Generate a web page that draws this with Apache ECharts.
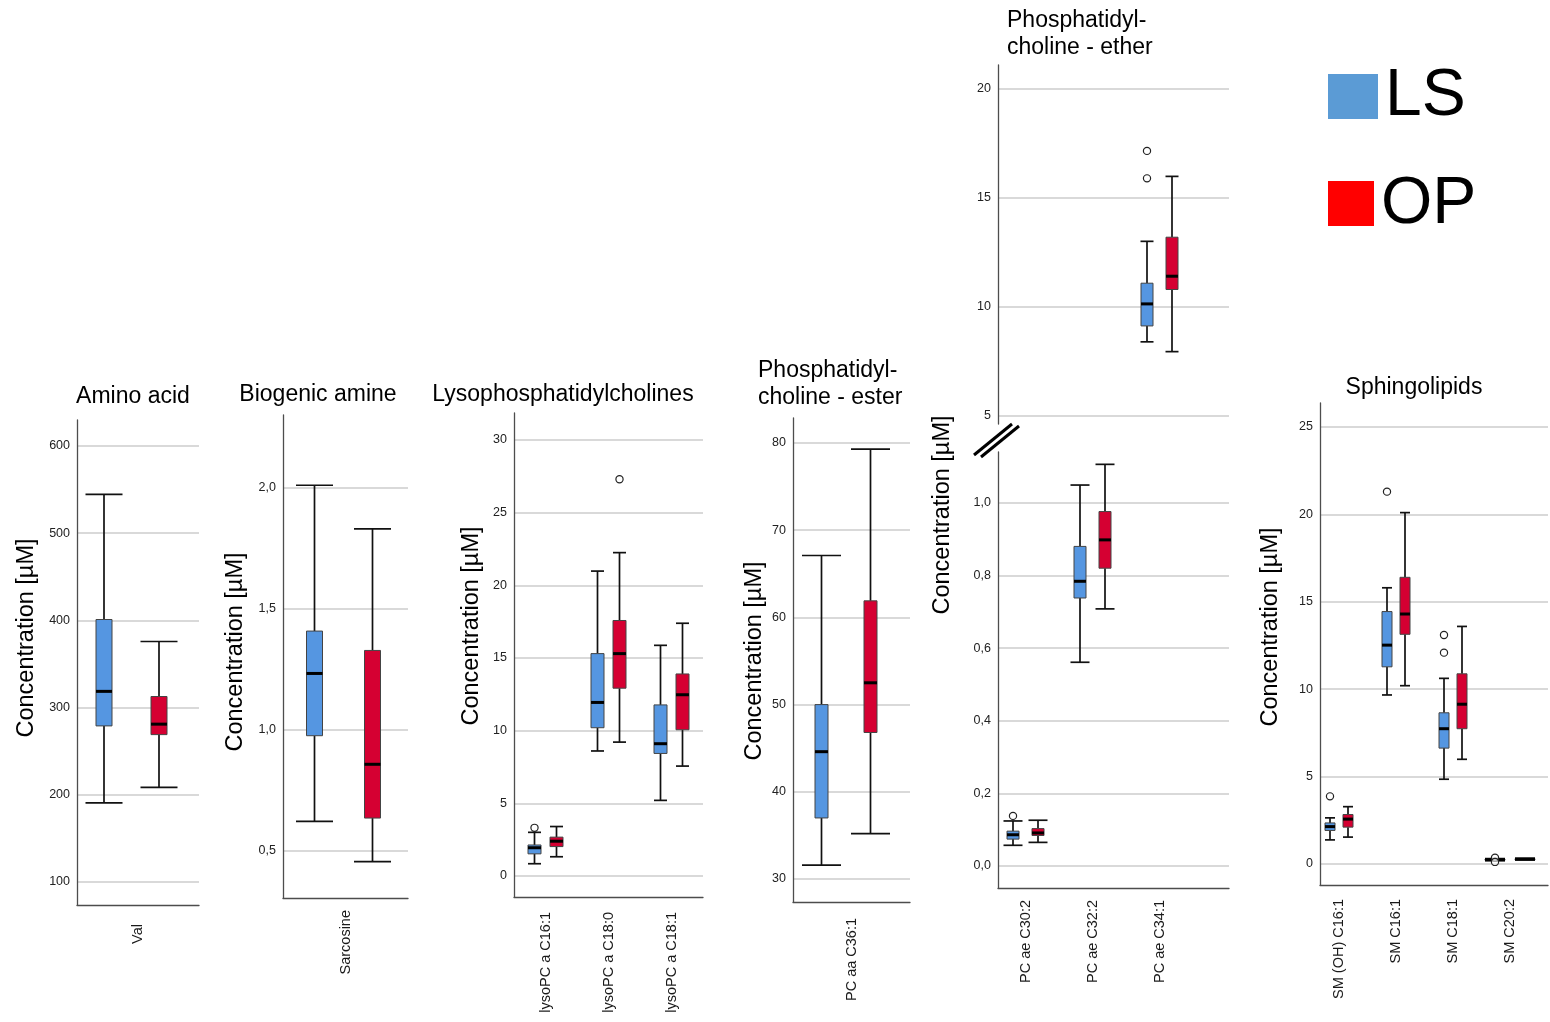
<!DOCTYPE html>
<html><head><meta charset="utf-8"><title>Concentrations LS vs OP</title>
<script src="https://cdn.jsdelivr.net/npm/echarts@6/dist/echarts.min.js"></script>
<style>html,body{margin:0;padding:0;background:#fff;}#chart{width:1550px;height:1022px;}</style>
</head><body><div id="chart"></div>
<script>
// ---------- DATA: each row = [min, Q1, median, Q3, max] ----------
const groups = ['LS', 'OP'];

const aminoCats = ['Val'];
const aminoLS = [[190.7, 279, 318.6, 401, 544.5]];
const aminoOP = [[208.5, 269, 281, 312.7, 375.8]];

const amineCats = ['Sarcosine'];
const amineLS = [[0.622, 0.976, 1.233, 1.408, 2.01]];
const amineOP = [[0.456, 0.636, 0.858, 1.328, 1.83]];

const lysoCats = ['lysoPC a C16:1', 'lysoPC a C18:0', 'lysoPC a C18:1'];
const lysoLS = [[0.84, 1.52, 1.94, 2.13, 3.0], [8.6, 10.2, 11.94, 15.3, 20.98], [5.2, 8.43, 9.1, 11.77, 15.87]];
const lysoOP = [[1.32, 2.02, 2.39, 2.67, 3.40], [9.21, 12.92, 15.3, 17.58, 22.25], [7.56, 10.06, 12.47, 13.9, 17.39]];
const lysoOutLS = [[0, 3.31]];
const lysoOutOP = [[1, 27.3]];

const esterCats = ['PC aa C36:1'];
const esterLS = [[31.6, 37.0, 44.6, 50.0, 67.1]];
const esterOP = [[35.2, 46.8, 52.5, 61.9, 79.3]];

const etherCats = ['PC ae C30:2', 'PC ae C32:2', 'PC ae C34:1'];
const etherLS = [[0.057, 0.074, 0.086, 0.096, 0.124], [0.561, 0.738, 0.784, 0.88, 1.049], [8.4, 9.13, 10.14, 11.09, 13.01]];
const etherOP = [[0.065, 0.084, 0.091, 0.103, 0.126], [0.708, 0.82, 0.898, 0.976, 1.106], [7.95, 10.8, 11.41, 13.2, 15.99]];
const etherOutLS = [[0, 0.138], [2, 17.16], [2, 15.9]];
const etherOutOP = [];

const sphCats = ['SM (OH) C16:1', 'SM C16:1', 'SM C18:1', 'SM C20:2'];
const sphLS = [[1.38, 1.92, 2.14, 2.35, 2.64], [9.67, 11.28, 12.52, 14.44, 15.8], [4.85, 6.63, 7.74, 8.65, 10.62], [0.19, 0.22, 0.25, 0.28, 0.31]];
const sphOP = [[1.54, 2.11, 2.57, 2.83, 3.28], [10.2, 13.14, 14.3, 16.4, 20.1], [5.99, 7.74, 9.14, 10.88, 13.59], [0.23, 0.26, 0.28, 0.30, 0.33]];
const sphOutLS = [[0, 3.87], [1, 21.3], [2, 13.1], [2, 12.09], [3, 0.36], [3, 0.12]];
const sphOutOP = [];

const panelTitles = ['Amino acid', 'Biogenic amine', 'Lysophosphatidylcholines', 'Phosphatidyl-\ncholine - ester', 'Phosphatidyl-\ncholine - ether', 'Sphingolipids'];
const yName = 'Concentration [µM]';

// ---------- STYLE / LAYOUT ----------
const FONT = '"Liberation Sans", Arial, sans-serif';
const C_LS = '#5596E1', C_OP = '#D50032';
const AXIS_C = '#4d4d4d', GRID_C = '#cccccc';

const grids = [], xAxes = [], yAxes = [], series = [];

function fmt(dec) {
  return v => dec ? v.toFixed(dec).replace('.', ',') : String(Math.round(v));
}
function yAxisCfg(gi, p, show) {
  if (!show) return {gridIndex: gi, type: 'value', min: p.min, max: p.max, show: false, splitLine: {show: false}};
  return {
    gridIndex: gi, type: 'value', min: p.min, max: p.max,
    minInterval: p.step, maxInterval: p.step, splitNumber: 5,
    axisLine: {show: true, lineStyle: {color: AXIS_C, width: 1.3}},
    axisTick: {show: false},
    axisLabel: {show: true, margin: 7, fontSize: 12.5, color: '#222', fontFamily: FONT,
      showMinLabel: false, showMaxLabel: false, formatter: fmt(p.dec)},
    splitLine: {show: true, showMinLine: false, showMaxLine: false, lineStyle: {color: GRID_C, width: 1.5}}
  };
}
function xAxisCfg(gi, cats, showLine, showLabels, margin) {
  return {
    gridIndex: gi, type: 'category', data: cats, boundaryGap: true,
    show: showLine || showLabels,
    axisLine: {show: showLine, onZero: false, lineStyle: {color: AXIS_C, width: 1.3}},
    axisTick: {show: false},
    axisLabel: {show: showLabels, interval: 0, rotate: 90, margin: margin || 10, fontSize: 14.5, color: '#1a1a1a', fontFamily: FONT},
    splitLine: {show: false}
  };
}
function boxSeries(ai, data, color, gIdx, p, name) {
  return {
    type: 'custom', name: name, xAxisIndex: ai, yAxisIndex: ai, z: 3,
    data: data, encode: {x: 0, y: [1, 2, 3, 4, 5]},
    renderItem: function (params, api) {
      const c = api.value(0);
      const ov = (p.catStyle && p.catStyle[c]) || {};
      const off = (ov.off || p.off)[gIdx];
      const bw = ov.bw || p.bw, cw = ov.cw || p.cw;
      const lo = api.coord([c, api.value(1)]);
      const q1 = api.coord([c, api.value(2)]);
      const md = api.coord([c, api.value(3)]);
      const q3 = api.coord([c, api.value(4)]);
      const hi = api.coord([c, api.value(5)]);
      const x = lo[0] + off;
      const ws = {stroke: '#111', lineWidth: 1.7};
      return {type: 'group', children: [
        {type: 'line', shape: {x1: x, y1: hi[1], x2: x, y2: q3[1]}, style: ws},
        {type: 'line', shape: {x1: x, y1: q1[1], x2: x, y2: lo[1]}, style: ws},
        {type: 'line', shape: {x1: x - cw, y1: hi[1], x2: x + cw, y2: hi[1]}, style: ws},
        {type: 'line', shape: {x1: x - cw, y1: lo[1], x2: x + cw, y2: lo[1]}, style: ws},
        {type: 'rect', shape: {x: x - bw, y: q3[1], width: 2 * bw, height: Math.max(q1[1] - q3[1], 1)},
          style: {fill: color, stroke: '#444', lineWidth: 1}},
        {type: 'line', shape: {x1: x - bw, y1: md[1], x2: x + bw, y2: md[1]}, style: {stroke: '#000', lineWidth: 3}}
      ]};
    }
  };
}
function outSeries(ai, data, gIdx, p) {
  return {
    type: 'custom', xAxisIndex: ai, yAxisIndex: ai, z: 4,
    data: data, encode: {x: 0, y: 1},
    renderItem: function (params, api) {
      const c = api.value(0);
      const ov = (p.catStyle && p.catStyle[c]) || {};
      const off = (ov.off || p.off)[gIdx];
      const pt = api.coord([c, api.value(1)]);
      return {type: 'circle', shape: {cx: pt[0] + off, cy: pt[1], r: 3.6},
        style: {fill: 'rgba(255,255,255,0.6)', stroke: '#222', lineWidth: 1.2}};
    }
  };
}
function addGrid(g) { grids.push(g); return grids.length - 1; }
function addBoxes(ai, p, keep) {
  [[p.ls, C_LS, 0, groups[0]], [p.op, C_OP, 1, groups[1]]].forEach(function (s) {
    const data = s[0].map((v, i) => [i].concat(v)).filter(d => keep(d[0]));
    series.push(boxSeries(ai, data, s[1], s[2], p, s[3]));
  });
  [[p.outLS || [], 0], [p.outOP || [], 1]].forEach(function (s) {
    const data = s[0].filter(d => keep(d[0]));
    if (data.length) series.push(outSeries(ai, data, s[1], p));
  });
}
// single-grid panel
function simplePanel(p) {
  const gi = addGrid(p.grid);
  xAxes.push(xAxisCfg(gi, p.cats, true, true, p.lm));
  yAxes.push(yAxisCfg(gi, p, true));
  addBoxes(gi, p, () => true);
}
// display grid (axis, grid lines) + data grid (boxes, category labels)
function dualPanel(p, showXLine, showXLabels, keep) {
  const gd = addGrid(p.grid);
  xAxes.push(xAxisCfg(gd, p.cats, showXLine, false, p.lm));
  yAxes.push(yAxisCfg(gd, p, true));
  const gb = addGrid(p.dataGrid);
  xAxes.push(xAxisCfg(gb, p.cats, false, showXLabels, p.lm));
  yAxes.push(yAxisCfg(gb, p, false));
  addBoxes(gb, p, keep);
}

simplePanel({cats: aminoCats, ls: aminoLS, op: aminoOP,
  grid: {left: 77, top: 420, width: 122, height: 485}, min: 73.6, max: 629.8, step: 100, dec: 0,
  off: [-34, 21], bw: 8, cw: 18.5, lm: 19});
simplePanel({cats: amineCats, ls: amineLS, op: amineOP,
  grid: {left: 283, top: 415, width: 125, height: 483}, min: 0.306, max: 2.30, step: 0.5, dec: 1,
  off: [-31, 27], bw: 8, cw: 18.5, lm: 12});
simplePanel({cats: lysoCats, ls: lysoLS, op: lysoOP, outLS: lysoOutLS, outOP: lysoOutOP,
  grid: {left: 514, top: 413, width: 189, height: 484}, min: -1.45, max: 31.86, step: 5, dec: 0,
  off: [-11, 11], bw: 6.5, cw: 6.5, lm: 15});
simplePanel({cats: esterCats, ls: esterLS, op: esterOP,
  grid: {left: 793, top: 418, width: 117, height: 484}, min: 27.36, max: 82.87, step: 10, dec: 0,
  off: [-30, 19], bw: 6.5, cw: 19.5, lm: 16});
// ether: broken axis -> upper and lower sections
dualPanel({cats: etherCats, ls: etherLS, op: etherOP, outLS: etherOutLS, outOP: etherOutOP,
  grid: {left: 998, top: 65, width: 231, height: 359}, dataGrid: {left: 992.5, top: 65, width: 201, height: 359},
  min: 4.63, max: 21.1, step: 5, dec: 0, off: [-13, 12], bw: 6, cw: 6.5, lm: 10}, false, false, i => i === 2);
dualPanel({cats: etherCats, ls: etherLS, op: etherOP, outLS: etherOutLS, outOP: etherOutOP,
  grid: {left: 998, top: 452, width: 231, height: 436}, dataGrid: {left: 992.5, top: 452, width: 201, height: 436},
  min: -0.0606, max: 1.14, step: 0.2, dec: 1, off: [-13, 12], bw: 6, cw: 9.5, lm: 12}, true, true, i => i < 2);
dualPanel({cats: sphCats, ls: sphLS, op: sphOP, outLS: sphOutLS, outOP: sphOutOP,
  grid: {left: 1320, top: 403, width: 228, height: 482}, dataGrid: {left: 1310.5, top: 403, width: 228, height: 482},
  min: -1.2, max: 26.37, step: 5, dec: 0, off: [-9, 9], bw: 5, cw: 5, lm: 14,
  catStyle: {3: {off: [-15, 15], bw: 10, cw: 10}}}, true, true, () => true);

// ---------- texts / decorations ----------
const graphic = [];
function txt(x, y, text, size, align, rot) {
  graphic.push({type: 'text', x: x, y: y, rotation: rot || 0, silent: true,
    style: {text: text, fontSize: size, fontFamily: FONT, fill: '#000', align: align || 'center',
      verticalAlign: 'middle', lineHeight: 27}});
}
txt(133, 397, panelTitles[0], 23);
txt(318, 395, panelTitles[1], 23);
txt(563, 395, panelTitles[2], 23);
txt(758, 384, panelTitles[3], 23, 'left');
txt(1007, 34, panelTitles[4], 23, 'left');
txt(1414, 388, panelTitles[5], 23);
[[27, 638], [236, 652], [472, 626], [755, 661], [943, 515], [1271, 627]].forEach(function (p) {
  txt(p[0], p[1], yName, 23.5, 'center', Math.PI / 2);
});
// axis break marks
graphic.push({type: 'line', silent: true, shape: {x1: 974, y1: 455, x2: 1012, y2: 424}, style: {stroke: '#000', lineWidth: 3}});
graphic.push({type: 'line', silent: true, shape: {x1: 981, y1: 457, x2: 1019, y2: 426}, style: {stroke: '#000', lineWidth: 3}});
// legend
graphic.push({type: 'rect', silent: true, shape: {x: 1328, y: 74, width: 50, height: 45}, style: {fill: '#5B9BD5'}});
graphic.push({type: 'rect', silent: true, shape: {x: 1328, y: 181, width: 46, height: 45}, style: {fill: '#FF0000'}});
graphic.push({type: 'text', silent: true, x: 1385, y: 97, style: {text: groups[0], fontSize: 66, fontFamily: FONT, fill: '#000', align: 'left', verticalAlign: 'middle'}});
graphic.push({type: 'text', silent: true, x: 1381, y: 205, style: {text: groups[1], fontSize: 66, fontFamily: FONT, fill: '#000', align: 'left', verticalAlign: 'middle'}});

const option = {
  animation: false,
  backgroundColor: '#fff',
  grid: grids,
  xAxis: xAxes,
  yAxis: yAxes,
  series: series,
  graphic: graphic
};
const chart = echarts.init(document.getElementById('chart'), null, {renderer: 'canvas'});
chart.setOption(option);
</script></body></html>
